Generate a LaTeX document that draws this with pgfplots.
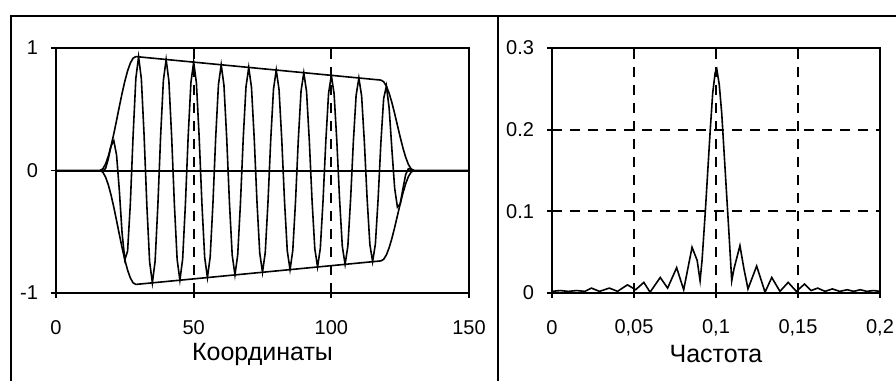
\documentclass[border=0pt]{standalone}
\usepackage{pgfplots}
\pgfplotsset{compat=1.18}
\usepackage{fontspec}
\setmainfont{Liberation Sans}
\begin{document}
\begin{tikzpicture}[x=1pt,y=1pt]
\useasboundingbox (0,0) rectangle (448,190.5);
\draw[line width=1.1pt] (5.5,0) -- (5.5,182.5) -- (448,182.5);
\draw[line width=1.1pt] (249,0) -- (249,182.5);
\pgfplotsset{
  myaxis/.style={
    scale only axis, anchor=south west,
    axis line style={line width=1pt},
    tick align=outside, major tick length=2.5pt,
    tick style={line width=0.9pt, black},
    xtick pos=bottom, ytick pos=left,
    /pgf/number format/assume math mode=true,
    tick label style={font=\fontsize{10}{11}\selectfont},
    xticklabel style={anchor=center, yshift=-15pt},
    yticklabel style={anchor=east, xshift=-3pt},
    label style={font=\fontsize{12.5}{14}\selectfont},
    xlabel style={at={(axis description cs:0.5,0)}, anchor=center, yshift=-30.5pt},
    major grid style={line width=0.9pt, black, dash pattern=on 5pt off 4pt},
  }
}
\begin{axis}[myaxis, at={(28pt,44pt)}, width=206.5pt, height=122.5pt,
  xmin=0, xmax=150, ymin=-1, ymax=1,
  xtick={0,50,100,150}, ytick={-1,0,1}, yticklabels={-1,0,1},
  xmajorgrids=true,
  xlabel={Координаты}]
\addplot[line width=1pt] coordinates {(0,0)(150,0)};
\addplot[line width=0.8pt] coordinates {
(0,0)(16,0)(17,-0.004)(18,0.016)(19,0.095)(20,0.201)(21,0.243)(22,0.126)(23,-0.161)(24,-0.510)
(25,-0.729)(26,-0.658)(27,-0.271)(28,0.283)(29,0.752)(30,0.928)(31,0.749)(32,0.285)(33,-0.285)(34,-0.744)
(35,-0.917)(36,-0.740)(37,-0.282)(38,0.281)(39,0.735)(40,0.906)(41,0.731)(42,0.279)(43,-0.278)(44,-0.726)
(45,-0.895)(46,-0.723)(47,-0.275)(48,0.275)(49,0.717)(50,0.885)(51,0.714)(52,0.272)(53,-0.271)(54,-0.709)
(55,-0.874)(56,-0.705)(57,-0.269)(58,0.268)(59,0.700)(60,0.863)(61,0.696)(62,0.265)(63,-0.265)(64,-0.691)
(65,-0.852)(66,-0.688)(67,-0.262)(68,0.261)(69,0.682)(70,0.841)(71,0.679)(72,0.259)(73,-0.258)(74,-0.674)
(75,-0.831)(76,-0.670)(77,-0.255)(78,0.255)(79,0.665)(80,0.820)(81,0.662)(82,0.252)(83,-0.251)(84,-0.656)
(85,-0.809)(86,-0.653)(87,-0.249)(88,0.248)(89,0.648)(90,0.798)(91,0.644)(92,0.245)(93,-0.245)(94,-0.639)
(95,-0.787)(96,-0.635)(97,-0.242)(98,0.241)(99,0.630)(100,0.777)(101,0.627)(102,0.239)(103,-0.238)(104,-0.621)
(105,-0.766)(106,-0.618)(107,-0.235)(108,0.235)(109,0.613)(110,0.755)(111,0.609)(112,0.232)(113,-0.231)(114,-0.604)
(115,-0.744)(116,-0.600)(117,-0.229)(118,0.228)(119,0.587)(120,0.689)(121,0.510)(122,0.171)(123,-0.144)(124,-0.299)
(125,-0.274)(126,-0.149)(127,-0.033)(128,0.015)(129,0.010)(130,0)(150,0)};
\addplot[line width=0.8pt] coordinates {
(16,0)(17,0.0135)(18,0.053)(19,0.117)(20,0.201)(21,0.300)(22,0.409)(23,0.521)(24,0.630)(25,0.729)
(26,0.813)(27,0.877)(28,0.917)(29,0.930)(118,0.738)(119,0.725)(120,0.689)(121,0.630)(122,0.554)(123,0.465)
(124,0.369)(125,0.274)(126,0.185)(127,0.108)(128,0.049)(129,0.013)(130,0)};
\addplot[line width=0.8pt] coordinates {
(16,0)(17,-0.0135)(18,-0.053)(19,-0.117)(20,-0.201)(21,-0.300)(22,-0.409)(23,-0.521)(24,-0.630)(25,-0.729)
(26,-0.813)(27,-0.877)(28,-0.917)(29,-0.930)(118,-0.738)(119,-0.725)(120,-0.689)(121,-0.630)(122,-0.554)(123,-0.465)
(124,-0.369)(125,-0.274)(126,-0.185)(127,-0.108)(128,-0.049)(129,-0.013)(130,0)};
\end{axis}
\begin{axis}[myaxis, at={(276pt,44pt)}, width=164pt, height=122.5pt,
  xmin=0, xmax=0.2, ymin=0, ymax=0.3,
  xtick={0,0.05,0.1,0.15,0.2}, xticklabels={0,{0,05},{0,1},{0,15},{0,2}},
  ytick={0,0.1,0.2,0.3}, yticklabels={0,0.1,0.2,0.3},
  xmajorgrids=true, ymajorgrids=true,
  xlabel={Частота}]
\addplot[line width=0.8pt] coordinates {
(0,0.002)(0.005,0.003)(0.01,0.002)(0.015,0.003)(0.02,0.002)(0.024,0.006)(0.029,0.002)(0.035,0.006)
(0.040,0.002)(0.046,0.010)(0.051,0.004)(0.056,0.013)(0.0598,0.001)(0.066,0.019)(0.0705,0.006)(0.076,0.031)
(0.0803,0.004)(0.0854,0.056)(0.0885,0.040)(0.0903,0.015)(0.0915,0.040)(0.0925,0.070)(0.0935,0.100)(0.095,0.150)
(0.0965,0.200)(0.098,0.245)(0.0995,0.270)(0.1005,0.274)(0.102,0.255)(0.1035,0.220)(0.105,0.170)(0.1065,0.120)
(0.108,0.070)(0.1096,0.015)(0.111,0.030)(0.1146,0.058)(0.117,0.030)(0.1195,0.005)(0.1248,0.033)(0.1299,0.001)
(0.134,0.019)(0.139,0.002)(0.144,0.013)(0.149,0.002)(0.154,0.011)(0.158,0.003)(0.162,0.006)(0.1665,0.002)
(0.171,0.005)(0.1755,0.002)(0.18,0.004)(0.184,0.002)(0.188,0.004)(0.192,0.002)(0.196,0.003)(0.2,0.002)};
\end{axis}
\end{tikzpicture}
\end{document}
